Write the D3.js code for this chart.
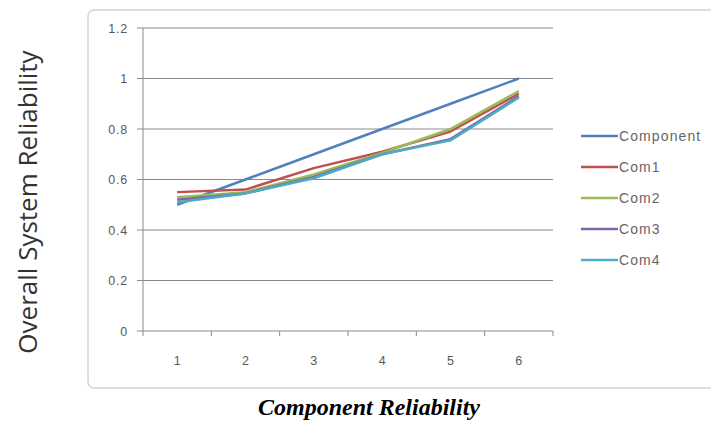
<!DOCTYPE html>
<html><head><meta charset="utf-8">
<script src="https://cdn.jsdelivr.net/npm/d3@7"></script>
<style>body{margin:0;background:#fff;}svg{display:block;}</style>
</head><body>
<script>
const categories = [1, 2, 3, 4, 5, 6];
const seriesNames = ["Component", "Com1", "Com2", "Com3", "Com4"];
const component = [0.50, 0.60, 0.70, 0.80, 0.90, 1.00];
const com1 = [0.55, 0.56, 0.645, 0.71, 0.79, 0.94];
const com2 = [0.53, 0.55, 0.62, 0.705, 0.80, 0.95];
const com3 = [0.52, 0.545, 0.61, 0.70, 0.76, 0.93];
const com4 = [0.51, 0.545, 0.605, 0.70, 0.755, 0.925];
const yTicks = [0, 0.2, 0.4, 0.6, 0.8, 1, 1.2];
const colors = ["#4F81BD", "#C0504D", "#9BBB59", "#8064A2", "#4BACC6"];
const seriesValues = [component, com1, com2, com3, com4];

const W = 711, H = 423;
const svg = d3.select("body").append("svg").attr("width", W).attr("height", H);

// chart frame
svg.append("rect").attr("x", 88).attr("y", 10).attr("width", 640).attr("height", 378)
  .attr("rx", 6).attr("fill", "#fff").attr("stroke", "#d4d4d4").attr("stroke-width", 1.5);

const x = d3.scaleBand().domain(categories).range([143, 553]);
const y = d3.scaleLinear().domain([0, 1.2]).range([331, 28]);

// gridlines
svg.append("g").selectAll("line").data(yTicks).join("line")
  .attr("x1", 137).attr("x2", 553)
  .attr("y1", d => y(d)).attr("y2", d => y(d))
  .attr("stroke", "#8a8a8a").attr("stroke-width", 1);

// y axis line
svg.append("line").attr("x1", 143).attr("x2", 143).attr("y1", y(1.2)).attr("y2", y(0))
  .attr("stroke", "#8a8a8a").attr("stroke-width", 1);

// x axis ticks
const bounds = categories.map(c => x(c)).concat([x.range()[1]]);
svg.append("g").selectAll("line").data(bounds).join("line")
  .attr("x1", d => d).attr("x2", d => d).attr("y1", y(0)).attr("y2", y(0) + 5)
  .attr("stroke", "#8a8a8a");

// y tick labels
svg.append("g").selectAll("text").data(yTicks).join("text")
  .attr("x", 128).attr("y", d => y(d) + 4.5)
  .attr("text-anchor", "end")
  .attr("font-family", "Liberation Sans, Arial, sans-serif").attr("font-size", 12.5)
  .attr("letter-spacing", 0.8)
  .attr("fill", "#595959").text(d => d);

// x tick labels
svg.append("g").selectAll("text").data(categories).join("text")
  .attr("x", d => x(d) + x.bandwidth() / 2).attr("y", 365)
  .attr("text-anchor", "middle")
  .attr("font-family", "Liberation Sans, Arial, sans-serif").attr("font-size", 12.5)
  .attr("fill", "#595959").text(d => d);

// lines
const line = d3.line().x((d, i) => x(categories[i]) + x.bandwidth() / 2).y(d => y(d));
seriesValues.forEach((vals, i) => {
  svg.append("path").datum(vals).attr("d", line)
    .attr("fill", "none").attr("stroke", colors[i]).attr("stroke-width", 2.5)
    .attr("stroke-linejoin", "round");
});

// legend
const lg = svg.append("g");
seriesNames.forEach((n, i) => {
  const ly = 136 + i * 31;
  lg.append("line").attr("x1", 581).attr("x2", 618).attr("y1", ly).attr("y2", ly)
    .attr("stroke", colors[i]).attr("stroke-width", 2.5);
  lg.append("text").attr("x", 619).attr("y", ly + 5)
    .attr("font-family", "Liberation Sans, Arial, sans-serif").attr("font-size", 14)
    .attr("letter-spacing", 1.1)
    .attr("fill", "#666").text(n);
});

// y axis title
svg.append("text").attr("transform", "translate(37,202) rotate(-90)")
  .attr("text-anchor", "middle")
  .attr("font-family", "Open Sans, sans-serif").attr("font-size", 26)
  .attr("fill", "#333").text("Overall System Reliability");

// x axis title
svg.append("text").attr("x", 369).attr("y", 415)
  .attr("text-anchor", "middle")
  .attr("font-family", "Liberation Serif, Times New Roman, serif").attr("font-size", 24)
  .attr("font-weight", "bold").attr("font-style", "italic")
  .attr("fill", "#000").text("Component Reliability");
</script>
</body></html>
